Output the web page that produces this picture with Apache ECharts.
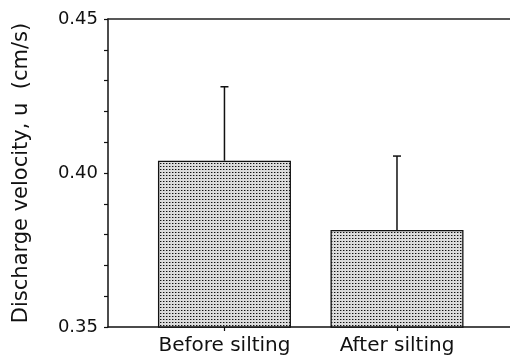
<!DOCTYPE html>
<html>
<head>
<meta charset="utf-8">
<script src="https://cdn.jsdelivr.net/npm/echarts@6/dist/echarts.min.js"></script>
<style>html,body{margin:0;padding:0;background:#fff}#c{width:510px;height:359px}</style>
</head>
<body>
<div id="c"></div>
<script>
const categories = ['Before silting', 'After silting'];
const positions = [1, 2];
const means = [0.404, 0.3815];
const errors = [0.024, 0.024];
const yTicks = [0.35, 0.40, 0.45];

const tile = document.createElement('canvas');
tile.width = 3; tile.height = 3;
const tc = tile.getContext('2d');
tc.fillStyle = '#dcdcdc'; tc.fillRect(0, 0, 3, 3);
tc.fillStyle = '#111111'; tc.fillRect(1, 1, 1, 1);
tc.fillStyle = '#8a8a8a'; tc.fillRect(2, 1, 1, 1);

const chart = echarts.init(document.getElementById('c'), null, {renderer: 'canvas'});
const FONT = 'DejaVu Sans';
chart.setOption({
  animation: false,
  backgroundColor: '#ffffff',
  grid: {left: 108, top: 19, right: 0, bottom: 32, containLabel: false},
  xAxis: [{
    type: 'value', min: 0.325, max: 2.655, position: 'bottom',
    splitLine: {show: false},
    axisLine: {lineStyle: {color: '#111', width: 1.5}},
    axisTick: {customValues: positions, length: 4, lineStyle: {color: '#111', width: 1.2}},
    axisLabel: {customValues: positions, margin: 9, color: '#111', fontFamily: FONT, fontSize: 20,
      formatter: v => categories[positions.indexOf(Math.round(v))] || ''}
  }, {
    type: 'value', min: 0.325, max: 2.655, position: 'top',
    splitLine: {show: false}, axisTick: {show: false}, axisLabel: {show: false},
    axisLine: {show: true, lineStyle: {color: '#222', width: 1.5}}
  }],
  yAxis: {
    type: 'value', min: 0.35, max: 0.45, interval: 0.01,
    name: 'Discharge velocity, u  (cm/s)', nameLocation: 'middle', nameGap: 76,
    nameTextStyle: {color: '#111', fontFamily: FONT, fontSize: 21},
    splitLine: {show: false},
    axisLine: {show: true, lineStyle: {color: '#111', width: 1.5}},
    axisTick: {show: true, length: 4, lineStyle: {color: '#111', width: 1.2}},
    axisLabel: {margin: 10, color: '#111', fontFamily: FONT, fontSize: 18,
      formatter: v => yTicks.some(t => Math.abs(t - v) < 1e-6) ? v.toFixed(2) : ''}
  },
  series: [{
    type: 'bar', xAxisIndex: 0, barWidth: 133,
    data: positions.map((p, i) => [p, means[i]]),
    itemStyle: {color: {image: tile, repeat: 'repeat'}, borderColor: '#111', borderWidth: 1.3}
  }, {
    type: 'custom', xAxisIndex: 0,
    data: positions.map((p, i) => [p, means[i], errors[i]]),
    renderItem: function (params, api) {
      const x = api.value(0), v = api.value(1), e = api.value(2);
      const b = api.coord([x, v]);
      const t = api.coord([x, v + e]);
      const st = {stroke: '#111', lineWidth: 1.5};
      return {type: 'group', children: [
        {type: 'line', shape: {x1: b[0], y1: b[1], x2: t[0], y2: t[1]}, style: st},
        {type: 'line', shape: {x1: t[0] - 4, y1: t[1], x2: t[0] + 4, y2: t[1]}, style: st}
      ]};
    },
    z: 5
  }]
});
</script>
</body>
</html>
